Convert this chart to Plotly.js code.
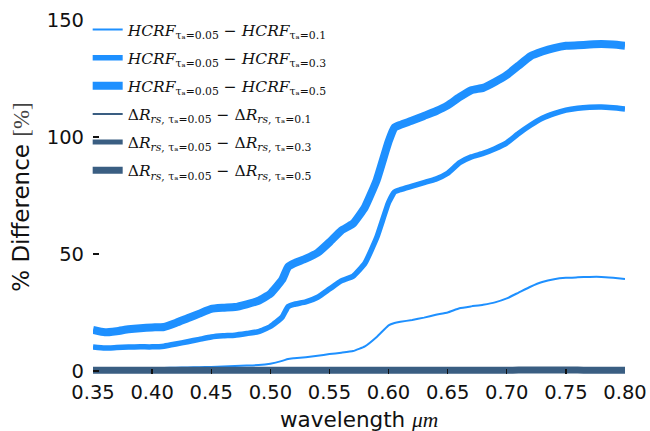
<!DOCTYPE html>
<html>
<head>
<meta charset="utf-8">
<script src="https://cdn.plot.ly/plotly-3.0.1.min.js"></script>
<style>
  html, body { margin: 0; padding: 0; background: #fff; }
  #chart { width: 650px; height: 431px; }
</style>
</head>
<body>
<div id="chart"></div>
<script>
// Wavelength grid (µm)
const wavelength = [
  0.35, 0.36, 0.37, 0.38, 0.39, 0.40, 0.41, 0.42, 0.43, 0.44,
  0.45, 0.46, 0.47, 0.48, 0.49, 0.50, 0.51, 0.515, 0.52, 0.53,
  0.54, 0.55, 0.56, 0.57, 0.58, 0.59, 0.60, 0.605, 0.61, 0.62,
  0.63, 0.64, 0.65, 0.66, 0.67, 0.68, 0.69, 0.70, 0.71, 0.72,
  0.73, 0.74, 0.75, 0.76, 0.77, 0.78, 0.79, 0.80
];

// HCRF differences (%) relative to tau_a = 0.05
const hcrf_01 = [
  0.8, 0.8, 0.9, 1.0, 1.1, 1.2, 1.3, 1.4, 1.5, 1.6,
  1.7, 1.9, 2.1, 2.3, 2.5, 3.1, 4.3, 5.1, 5.4, 5.9,
  6.5, 7.2, 7.8, 8.5, 10.5, 14.5, 19.5, 20.5, 21.0, 21.8,
  22.8, 24.0, 25.0, 26.8, 27.6, 28.3, 29.3, 31.0, 33.5, 36.0,
  38.0, 39.2, 39.8, 40.0, 40.2, 40.2, 39.8, 39.3
];
const hcrf_03 = [
  10.3, 9.8, 10.0, 10.2, 10.3, 10.3, 10.6, 11.5, 12.5, 13.5,
  14.5, 15.0, 15.3, 16.0, 16.8, 19.0, 23.0, 27.5, 28.5, 29.5,
  31.5, 35.0, 38.5, 40.5, 46.0, 57.0, 72.0, 76.5, 77.5, 79.0,
  80.5, 82.0, 84.5, 89.0, 91.5, 93.0, 95.0, 97.5, 101.5, 105.0,
  108.0, 110.0, 111.5, 112.3, 112.7, 112.8, 112.5, 112.0
];
const hcrf_05 = [
  17.5, 16.5, 17.0, 17.8, 18.3, 18.6, 18.8, 20.5, 22.5, 24.5,
  26.5, 27.0, 27.3, 28.5, 30.0, 33.0, 39.0, 44.5, 46.0, 48.0,
  50.5, 55.0, 60.0, 63.0, 70.0, 81.6, 98.0, 104.0, 105.2, 107.0,
  109.0, 111.0, 113.5, 117.0, 120.0, 121.0, 123.5, 126.5, 130.5, 134.5,
  136.5, 138.0, 139.0, 139.2, 139.5, 139.7, 139.5, 139.0
];

// Remote-sensing reflectance differences (%) relative to tau_a = 0.05
const drrs_01 = [
  0.1, 0.1, 0.1, 0.1, 0.1, 0.1, 0.1, 0.1, 0.1, 0.1,
  0.1, 0.1, 0.1, 0.1, 0.1, 0.1, 0.1, 0.1, 0.1, 0.1,
  0.1, 0.1, 0.1, 0.1, 0.1, 0.1, 0.1, 0.1, 0.1, 0.1,
  0.1, 0.1, 0.1, 0.1, 0.1, 0.1, 0.1, 0.1, 0.1, 0.1,
  0.1, 0.1, 0.1, 0.1, 0.1, 0.1, 0.1, 0.1
];
const drrs_03 = [
  0.2, 0.2, 0.2, 0.2, 0.2, 0.2, 0.2, 0.2, 0.2, 0.2,
  0.2, 0.2, 0.2, 0.2, 0.2, 0.2, 0.2, 0.2, 0.2, 0.2,
  0.2, 0.2, 0.2, 0.2, 0.2, 0.2, 0.2, 0.2, 0.2, 0.2,
  0.2, 0.2, 0.2, 0.2, 0.2, 0.2, 0.2, 0.2, 0.3, 0.3,
  0.3, 0.3, 0.3, 0.3, 0.2, 0.2, 0.2, 0.2
];
const drrs_05 = [
  0.3, 0.3, 0.3, 0.3, 0.3, 0.3, 0.3, 0.3, 0.3, 0.3,
  0.3, 0.3, 0.3, 0.3, 0.3, 0.3, 0.3, 0.3, 0.3, 0.3,
  0.3, 0.3, 0.3, 0.3, 0.3, 0.3, 0.3, 0.3, 0.3, 0.3,
  0.3, 0.3, 0.3, 0.3, 0.3, 0.3, 0.3, 0.3, 0.4, 0.4,
  0.4, 0.4, 0.4, 0.4, 0.3, 0.3, 0.3, 0.3
];

const yTicks = [0, 50, 100, 150];
const xTicks = [0.35, 0.40, 0.45, 0.50, 0.55, 0.60, 0.65, 0.70, 0.75, 0.80];
const xTickText = ['0.35', '0.40', '0.45', '0.50', '0.55', '0.60', '0.65', '0.70', '0.75', '0.80'];

const HCRF_COLOR = '#1e90ff';
const RRS_COLOR = '#3a5e82';

const hcrfName = tau => '<i>HCRF</i><sub>τₐ=0.05</sub> − <i>HCRF</i><sub>τₐ=' + tau + '</sub>';
const rrsName = tau => 'Δ<i>R</i><sub><i>rs</i>, τₐ=0.05</sub> − Δ<i>R</i><sub><i>rs</i>, τₐ=' + tau + '</sub>';

function series(y, name, color, width, group) {
  return {
    x: wavelength, y: y, name: name, type: 'scatter', mode: 'lines',
    line: { color: color, width: width, shape: 'spline', smoothing: 0.4 },
    legendgroup: group, hoverinfo: 'skip'
  };
}

const traces = [
  series(hcrf_01, hcrfName('0.1'), HCRF_COLOR, 2, 'g1'),
  series(hcrf_03, hcrfName('0.3'), HCRF_COLOR, 5.5, 'g2'),
  series(hcrf_05, hcrfName('0.5'), HCRF_COLOR, 8, 'g3'),
  series(drrs_01, rrsName('0.1'), RRS_COLOR, 2, 'g4'),
  series(drrs_03, rrsName('0.3'), RRS_COLOR, 5, 'g5'),
  series(drrs_05, rrsName('0.5'), RRS_COLOR, 7, 'g6')
];

const layout = {
  width: 650, height: 431,
  margin: { l: 93, r: 25, t: 20, b: 57 },
  paper_bgcolor: '#fff', plot_bgcolor: '#fff',
  font: { family: 'DejaVu Sans', size: 19.5, color: '#111' },
  showlegend: true,
  legend: {
    x: -0.01, y: 1.02, xanchor: 'left', yanchor: 'top',
    bgcolor: 'rgba(0,0,0,0)', borderwidth: 0,
    font: { family: 'DejaVu Serif', size: 15.5, color: '#111' },
    tracegroupgap: 5, itemwidth: 30
  },
  xaxis: {
    range: [0.35, 0.80], tickmode: 'array', tickvals: xTicks, ticktext: xTickText,
    ticks: 'inside', ticklen: 5, tickwidth: 1.3, tickcolor: '#111',
    showline: false, showgrid: false, zeroline: false,
    ticklabelstandoff: 4
  },
  yaxis: {
    range: [-1.3, 150], tickmode: 'array', tickvals: yTicks,
    ticks: 'inside', ticklen: 6, tickwidth: 1.3, tickcolor: '#111',
    showline: false, showgrid: false, zeroline: false,
    ticklabelstandoff: 8,
    title: { text: '% Difference <span style="font-family:Liberation Serif;fill:#444">[%]</span>', standoff: 10 }
  },
  // x-axis title placed below the tick labels
  annotations: [{
    text: 'wavelength <i><span style="font-family:Liberation Serif">μm</span></i>',
    xref: 'paper', yref: 'paper', x: 0.5, y: 0, xanchor: 'center', yanchor: 'top',
    yshift: -31, showarrow: false, font: { family: 'DejaVu Sans', size: 21.5, color: '#111' }
  }]
};

Plotly.newPlot('chart', traces, layout, { displayModeBar: false, staticPlot: true });
</script>
</body>
</html>
